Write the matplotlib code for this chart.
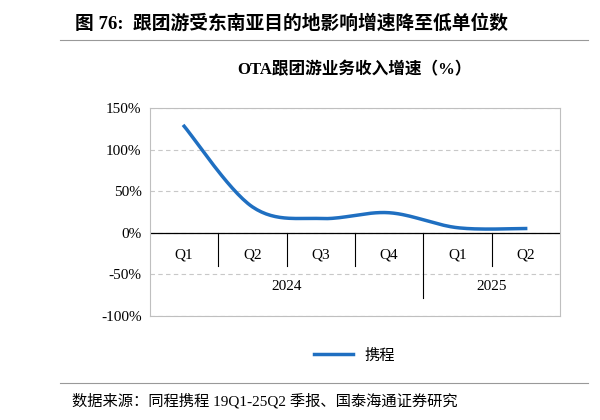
import numpy as np
import matplotlib
matplotlib.use("Agg")
import matplotlib.pyplot as plt

plt.rcParams["font.family"] = ["Liberation Serif", "Noto Sans CJK SC", "DejaVu Sans"]

quarters = ["Q1", "Q2", "Q3", "Q4", "Q1", "Q2"]
years = ["2024", "2025"]
growth = [128, 31, 17, 24, 6, 5]
yticks = [-100, -50, 0, 50, 100, 150]


def catmull(x, y, n=30):
    xs, ys = [], []
    px = np.r_[x[0], x, x[-1]]
    py = np.r_[y[0], y, y[-1]]
    for i in range(1, len(px) - 2):
        t = np.linspace(0, 1, n, endpoint=False)
        for arr, out in ((px, xs), (py, ys)):
            p0, p1, p2, p3 = arr[i - 1:i + 3]
            out.extend(0.5 * ((2 * p1) + (-p0 + p2) * t + (2 * p0 - 5 * p1 + 4 * p2 - p3) * t ** 2
                              + (-p0 + 3 * p1 - 3 * p2 + p3) * t ** 3))
    xs.append(x[-1]); ys.append(y[-1])
    return np.array(xs), np.array(ys)


fig = plt.figure(figsize=(6, 4.2), dpi=100)
ax = fig.add_axes([0.25, 0.248, 0.683, 0.495])
x = np.arange(len(growth))
sx, sy = catmull(x.astype(float), np.array(growth, float))
ax.plot(sx, sy, color="#1f6fc1", lw=2.5, label="携程")
ax.set_xlim(-0.5, len(growth) - 0.5)
ax.set_ylim(-100, 150)
ax.set_yticks(yticks)
ax.set_yticklabels([f"{v}%" for v in yticks], fontsize=11)
ax.set_xticks([])
ax.grid(axis="y", ls=(0, (4, 3)), color="#c8c8c8", lw=0.8)
for s in ax.spines.values():
    s.set_color("#bfbfbf")
ax.tick_params(axis="y", length=0, pad=6)

# category axis at zero
ax.axhline(0, color="black", lw=0.9)
for i, q in enumerate(quarters):
    ax.text(i, -27, q, ha="center", va="center", fontsize=11)
for b in np.arange(0.5, len(growth) - 0.5):
    depth = -78 if b == 3.5 else -40
    ax.plot([b, b], [0, depth], color="black", lw=0.8)
ax.text(1.5, -65, years[0], ha="center", va="center", fontsize=11)
ax.text(4.5, -65, years[1], ha="center", va="center", fontsize=11)

ax.set_title("OTA跟团游业务收入增速（%）", fontsize=12, fontweight="bold", pad=24)
ax.legend(loc="upper center", bbox_to_anchor=(0.5, -0.09), frameon=False, fontsize=11,
          handlelength=2.5)

fig.text(0.125, 0.945, "图 76:  跟团游受东南亚目的地影响增速降至低单位数", fontsize=13.5,
         fontweight="bold", va="center")
fig.add_artist(plt.Line2D([0.1, 0.98], [0.905, 0.905], color="#999999", lw=0.8))
fig.add_artist(plt.Line2D([0.1, 0.98], [0.088, 0.088], color="#999999", lw=0.8))
fig.text(0.12, 0.045, "数据来源：同程携程 19Q1-25Q2 季报、国泰海通证券研究", fontsize=11, va="center")

fig.savefig("out.png")
